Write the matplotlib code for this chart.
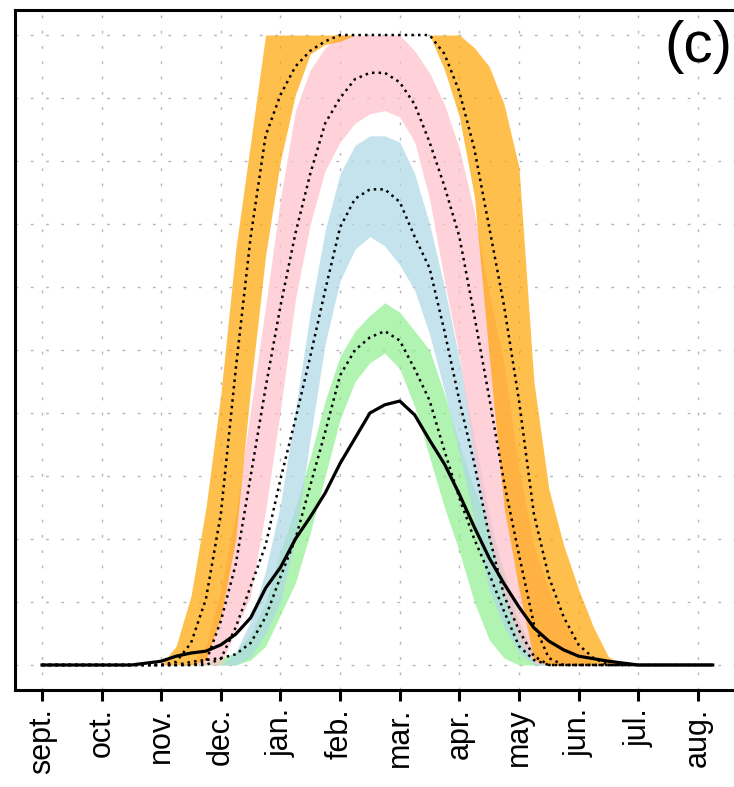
import numpy as np
import matplotlib
matplotlib.use('Agg')
import matplotlib.pyplot as plt

plt.rcParams['font.family'] = ['Liberation Sans', 'DejaVu Sans']

months = ['sept.', 'oct.', 'nov.', 'dec.', 'jan.', 'feb.', 'mar.',
          'apr.', 'may', 'jun.', 'jul.', 'aug.']

# time axis in months since 1 sept, weekly-ish steps
x = np.arange(46) * 0.25

orange_lo = [0]*11 + [0.008, 0.076, 0.2, 0.44, 0.65, 0.80, 0.905, 0.97, 0.985, 0.99,
             1, 1, 1, 1, 1, 1, 0.945, 0.87, 0.745, 0.49, 0.25, 0.12, 0.008] + [0]*12
orange_mid = [0]*9 + [0.005, 0.035, 0.105, 0.24, 0.47, 0.68, 0.84, 0.905, 0.95, 0.975, 0.99,
              1, 1, 1, 1, 1, 1, 1, 0.97, 0.91, 0.82, 0.695, 0.57, 0.42, 0.24, 0.14, 0.076,
              0.032, 0.011] + [0]*8
orange_hi = [0]*9 + [0.03, 0.11, 0.25, 0.43, 0.66, 0.83] + [1]*14 + \
            [0.98, 0.95, 0.89, 0.79, 0.45, 0.28, 0.19, 0.12, 0.06, 0.013] + [0]*7

pink_lo = [0]*13 + [0.055, 0.11, 0.245, 0.405, 0.58, 0.70, 0.785, 0.83, 0.86, 0.875, 0.88,
           0.87, 0.83, 0.74, 0.61, 0.49, 0.33, 0.205, 0.11, 0.04, 0.003] + [0]*12
pink_mid = [0]*11 + [0.005, 0.07, 0.16, 0.30, 0.44, 0.57, 0.685, 0.78, 0.86, 0.90, 0.93,
            0.94, 0.94, 0.925, 0.89, 0.83, 0.76, 0.68, 0.555, 0.425, 0.29, 0.175, 0.065,
            0.011] + [0]*11
pink_hi = [0]*11 + [0.03, 0.12, 0.24, 0.405, 0.57, 0.74, 0.88, 0.945, 0.98, 1, 1, 1, 1, 1,
           0.975, 0.94, 0.89, 0.82, 0.72, 0.59, 0.48, 0.31, 0.19, 0.12, 0.07, 0.03,
           0.003] + [0]*8

blue_lo = [0]*14 + [0.013, 0.05, 0.10, 0.2, 0.36, 0.51, 0.61, 0.66, 0.68, 0.665, 0.635,
           0.595, 0.525, 0.435, 0.335, 0.23, 0.12, 0.06, 0.02] + [0]*13
blue_mid = [0]*12 + [0.01, 0.06, 0.125, 0.19, 0.295, 0.39, 0.49, 0.595, 0.695, 0.74, 0.755,
            0.755, 0.735, 0.68, 0.63, 0.53, 0.42, 0.32, 0.205, 0.11, 0.055, 0.014] + [0]*12
blue_hi = [0]*13 + [0.02, 0.07, 0.15, 0.255, 0.405, 0.56, 0.69, 0.78, 0.825, 0.84, 0.84,
           0.83, 0.78, 0.70, 0.60, 0.485, 0.36, 0.24, 0.14, 0.065, 0.016] + [0]*12

green_lo = [0]*14 + [0.008, 0.03, 0.08, 0.13, 0.21, 0.30, 0.39, 0.45, 0.48, 0.495, 0.47,
            0.41, 0.33, 0.25, 0.18, 0.10, 0.04, 0.011] + [0]*14
green_mid = [0]*10 + [0.005, 0.008, 0.011, 0.017, 0.035, 0.076, 0.14, 0.2, 0.285, 0.37,
             0.46, 0.5, 0.52, 0.53, 0.515, 0.47, 0.42, 0.34, 0.265, 0.2, 0.145, 0.085,
             0.03, 0.008] + [0]*12
green_hi = [0]*11 + [0.005, 0.01, 0.02, 0.05, 0.1, 0.18, 0.25, 0.33, 0.42, 0.49, 0.53,
            0.555, 0.575, 0.56, 0.53, 0.50, 0.43, 0.35, 0.28, 0.22, 0.15, 0.07, 0.02,
            0.005] + [0]*11

observed = [0]*7 + [0.003, 0.006, 0.014, 0.019, 0.022, 0.032, 0.049, 0.075, 0.122, 0.155,
            0.2, 0.235, 0.273, 0.32, 0.36, 0.40, 0.413, 0.419, 0.397, 0.357, 0.319,
            0.271, 0.219, 0.17, 0.129, 0.092, 0.059, 0.038, 0.024, 0.014, 0.01, 0.006,
            0.003] + [0]*6

fig = plt.figure(figsize=(7.34, 7.87), dpi=100)
ax = fig.add_axes([15/734, 97/787, 721/734, 680/787])

bands = [
    (green_lo, green_mid, green_hi, 'lightgreen'),
    (blue_lo, blue_mid, blue_hi, 'lightblue'),
    (pink_lo, pink_mid, pink_hi, 'pink'),
    (orange_lo, orange_mid, orange_hi, 'orange'),
]
for lo, mid, hi, col in bands:
    ax.fill_between(x, lo, hi, color=col, alpha=0.7, lw=0)
for lo, mid, hi, col in bands:
    ax.plot(x, mid, color='black', ls=':', lw=1.8)
ax.plot(x, observed, color='black', lw=2.3)

ax.set_xlim(-0.453, 11.64)
ax.set_ylim(-0.0397, 1.0397)
ax.set_xticks(range(12))
ax.set_xticklabels(months, rotation=90)
ax.set_yticks(np.arange(0, 1.01, 0.1))
ax.set_yticklabels([])
ax.tick_params(axis='x', direction='out', length=8, width=2.2, labelsize=22, pad=5)
ax.tick_params(axis='y', length=0)
ax.set_axisbelow(True)
ax.grid(True, color='#b5b5b5', lw=1, ls=(0, (2, 9)))
for s in ax.spines.values():
    s.set_linewidth(2.2)

ax.text(0.995, 0.985, '(c)', transform=ax.transAxes, ha='right', va='top', fontsize=42)

plt.savefig('out.png', dpi=100)
